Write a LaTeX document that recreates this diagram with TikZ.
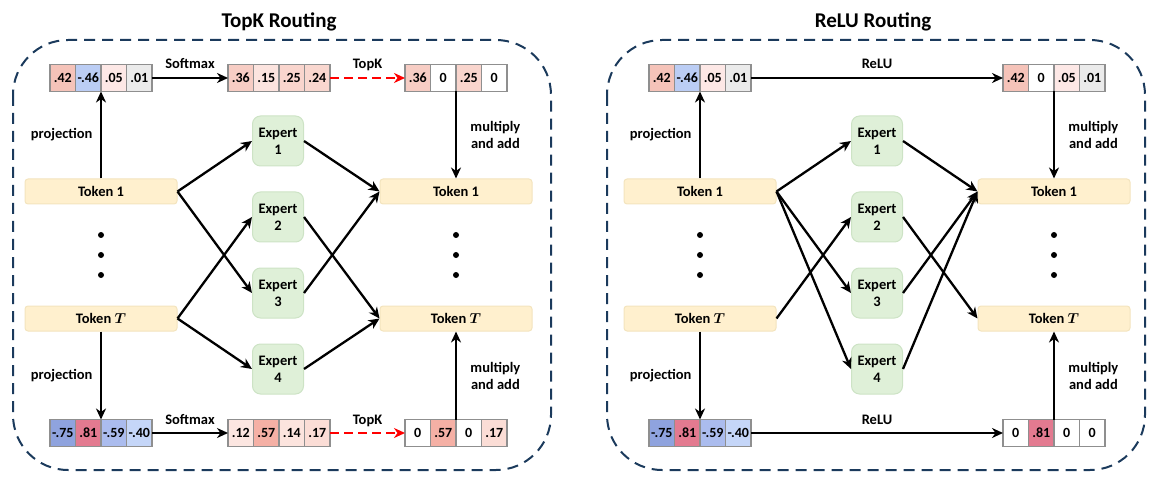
\documentclass[tikz,border=0pt]{standalone}
\usepackage{bm}
\usepackage{fontspec}
\setmainfont{Carlito}
\usetikzlibrary{arrows.meta,calc}

% cell colours of the score vectors
\definecolor{c42}{HTML}{F5C3B9}
\definecolor{cm46}{HTML}{BBCDF4}
\definecolor{c05}{HTML}{FDE8E6}
\definecolor{c01}{HTML}{EBEBEB}
\definecolor{c36}{HTML}{F7CDC4}
\definecolor{c15}{HTML}{FCE4DF}
\definecolor{c25}{HTML}{F9D5CD}
\definecolor{c24}{HTML}{F9D7CF}
\definecolor{cm75}{HTML}{8FA3DE}
\definecolor{c81}{HTML}{E37A90}
\definecolor{cm59}{HTML}{ABBCEE}
\definecolor{cm40}{HTML}{C5D6F8}
\definecolor{c12}{HTML}{FCE6E1}
\definecolor{c57}{HTML}{F5B0A5}
\definecolor{c14}{HTML}{FCE4DE}
\definecolor{c17}{HTML}{FBDDD6}
\definecolor{cellline}{HTML}{8F8F8F}
\definecolor{tokfill}{HTML}{FFF0CE}
\definecolor{tokline}{HTML}{F3E4BE}
\definecolor{expfill}{HTML}{DFF0D8}
\definecolor{expline}{HTML}{CDE3C5}
\definecolor{navy}{HTML}{1B3A5C}

% one row of four score cells: name, left x, centre y, value/colour list
\newcommand{\cellrow}[4]{%
  \foreach \t/\c [count=\i] in {#4} {
    \node[cell, fill=\c] (#1-\i) at ({#2+(\i-0.5)*25.5},#3) {\t};
  }}
\newcommand{\tokT}{Token $\bm{T}$}

\begin{document}
\begin{tikzpicture}[x=1pt,y=-1pt,
  every node/.style={font=\bfseries\fontsize{14.5}{17}\selectfont},
  title/.style={font=\bfseries\fontsize{21}{24}\selectfont},
  panel/.style={draw=navy, line width=2pt, dash pattern=on 11pt off 7pt, rounded corners=55pt},
  cell/.style={draw=cellline, line width=1.4pt, minimum width=25.5pt, minimum height=27pt, inner sep=0pt, outer sep=0pt, font=\bfseries\fontsize{14}{17}\selectfont},
  token/.style={draw=tokline, fill=tokfill, line width=1pt, rounded corners=3pt, minimum width=152pt, minimum height=25pt, inner sep=0pt},
  expert/.style={draw=expline, fill=expfill, line width=1pt, rounded corners=8pt, minimum width=51pt, minimum height=50pt, inner sep=0pt, align=center, font=\bfseries\fontsize{14.5}{17}\selectfont},
  arr/.style={-{Stealth[length=11pt,width=10pt,inset=3.5pt]}, line width=2.3pt},
  redarr/.style={-{Stealth[length=11pt,width=10pt,inset=3.5pt]}, line width=2.3pt, draw=red, dash pattern=on 9pt off 5pt},
  lbl/.style={midway, anchor=base, yshift=9pt, inner sep=0pt},
  dot/.style={circle, fill=black, inner sep=0pt, minimum size=6pt}
]
\useasboundingbox (0,0) rectangle (1154,489);

% ---------- panels and titles ----------
\draw[panel] (13,40) rectangle (551,470);
\draw[panel] (607,40) rectangle (1145,470);
\node[title] (t1) at (279,22) {TopK Routing};
\node[title] (t2) at (873,22) {ReLU Routing};

% ---------- TopK routing ----------
\cellrow{la}{50}{78}{.42/c42, -.46/cm46, .05/c05, .01/c01}
\cellrow{lb}{228}{78}{.36/c36, .15/c15, .25/c25, .24/c24}
\cellrow{lc}{405}{78}{.36/c36, 0/white, .25/c25, 0/white}
\cellrow{ld}{50}{433}{-.75/cm75, .81/c81, -.59/cm59, -.40/cm40}
\cellrow{le}{228}{433}{.12/c12, .57/c57, .14/c14, .17/c17}
\cellrow{lf}{405}{433}{0/white, .57/c57, 0/white, .17/c17}

\node[token] (a1) at (101,191.5) {Token 1};
\node[token] (aT) at (101,318.5) {\tokT};
\node[token] (b1) at (456,191.5) {Token 1};
\node[token] (bT) at (456,318.5) {\tokT};
\foreach \k/\yy in {1/141, 2/217, 3/293, 4/369}
  \node[expert] (e\k) at (278,\yy) {Expert\\\k};
\foreach \k/\yy in {1/235, 2/255, 3/275} {
  \node[dot] (ad\k) at (101,\yy) {};
  \node[dot] (bd\k) at (456,\yy) {};
}

\draw[arr] (la-4.east) -- (lb-1.west) node[lbl] {Softmax};
\draw[redarr] (lb-4.east) -- (lc-1.west) node[lbl, text=black] {TopK};
\draw[arr] (ld-4.east) -- (le-1.west) node[lbl] {Softmax};
\draw[redarr] (le-4.east) -- (lf-1.west) node[lbl, text=black] {TopK};

\draw[arr] (a1.north) -- (la-2.south east) node[midway, left=4pt] {projection};
\draw[arr] (aT.south) -- (ld-2.north east) node[midway, left=4pt] {projection};
\draw[arr] (lc-2.south east) -- (b1.north) node[midway, right=10pt, align=center] {multiply\\and add};
\draw[arr] (lf-2.north east) -- (bT.south) node[midway, right=10pt, align=center] {multiply\\and add};

\draw[arr] (a1.east) -- (e1.west);
\draw[arr] (a1.east) -- (e3.west);
\draw[arr] (aT.east) -- (e2.west);
\draw[arr] (aT.east) -- (e4.west);
\draw[arr] (e1.east) -- (b1.west);
\draw[arr] (e3.east) -- (b1.west);
\draw[arr] (e2.east) -- (bT.west);
\draw[arr] (e4.east) -- (bT.west);

% ---------- ReLU routing ----------
\cellrow{ra}{649}{78}{.42/c42, -.46/cm46, .05/c05, .01/c01}
\cellrow{rc}{1003}{78}{.42/c42, 0/white, .05/c05, .01/c01}
\cellrow{rd}{649}{433}{-.75/cm75, .81/c81, -.59/cm59, -.40/cm40}
\cellrow{rf}{1003}{433}{0/white, .81/c81, 0/white, 0/white}

\node[token] (p1) at (700,191.5) {Token 1};
\node[token] (pT) at (700,318.5) {\tokT};
\node[token] (q1) at (1054,191.5) {Token 1};
\node[token] (qT) at (1054,318.5) {\tokT};
\foreach \k/\yy in {1/141, 2/217, 3/293, 4/369}
  \node[expert] (f\k) at (877,\yy) {Expert\\\k};
\foreach \k/\yy in {1/235, 2/255, 3/275} {
  \node[dot] (pd\k) at (700,\yy) {};
  \node[dot] (qd\k) at (1054,\yy) {};
}

\draw[arr] (ra-4.east) -- (rc-1.west) node[lbl] {ReLU};
\draw[arr] (rd-4.east) -- (rf-1.west) node[lbl] {ReLU};

\draw[arr] (p1.north) -- (ra-2.south east) node[midway, left=4pt] {projection};
\draw[arr] (pT.south) -- (rd-2.north east) node[midway, left=4pt] {projection};
\draw[arr] (rc-2.south east) -- (q1.north) node[midway, right=10pt, align=center] {multiply\\and add};
\draw[arr] (rf-2.north east) -- (qT.south) node[midway, right=10pt, align=center] {multiply\\and add};

\draw[arr] (p1.east) -- (f1.west);
\draw[arr] (p1.east) -- (f3.west);
\draw[arr] (p1.east) -- (f4.west);
\draw[arr] (pT.east) -- (f2.west);
\draw[arr] (f1.east) -- (q1.west);
\draw[arr] (f3.east) -- (q1.west);
\draw[arr] (f4.east) -- (q1.west);
\draw[arr] (f2.east) -- (qT.west);
\end{tikzpicture}
\end{document}
